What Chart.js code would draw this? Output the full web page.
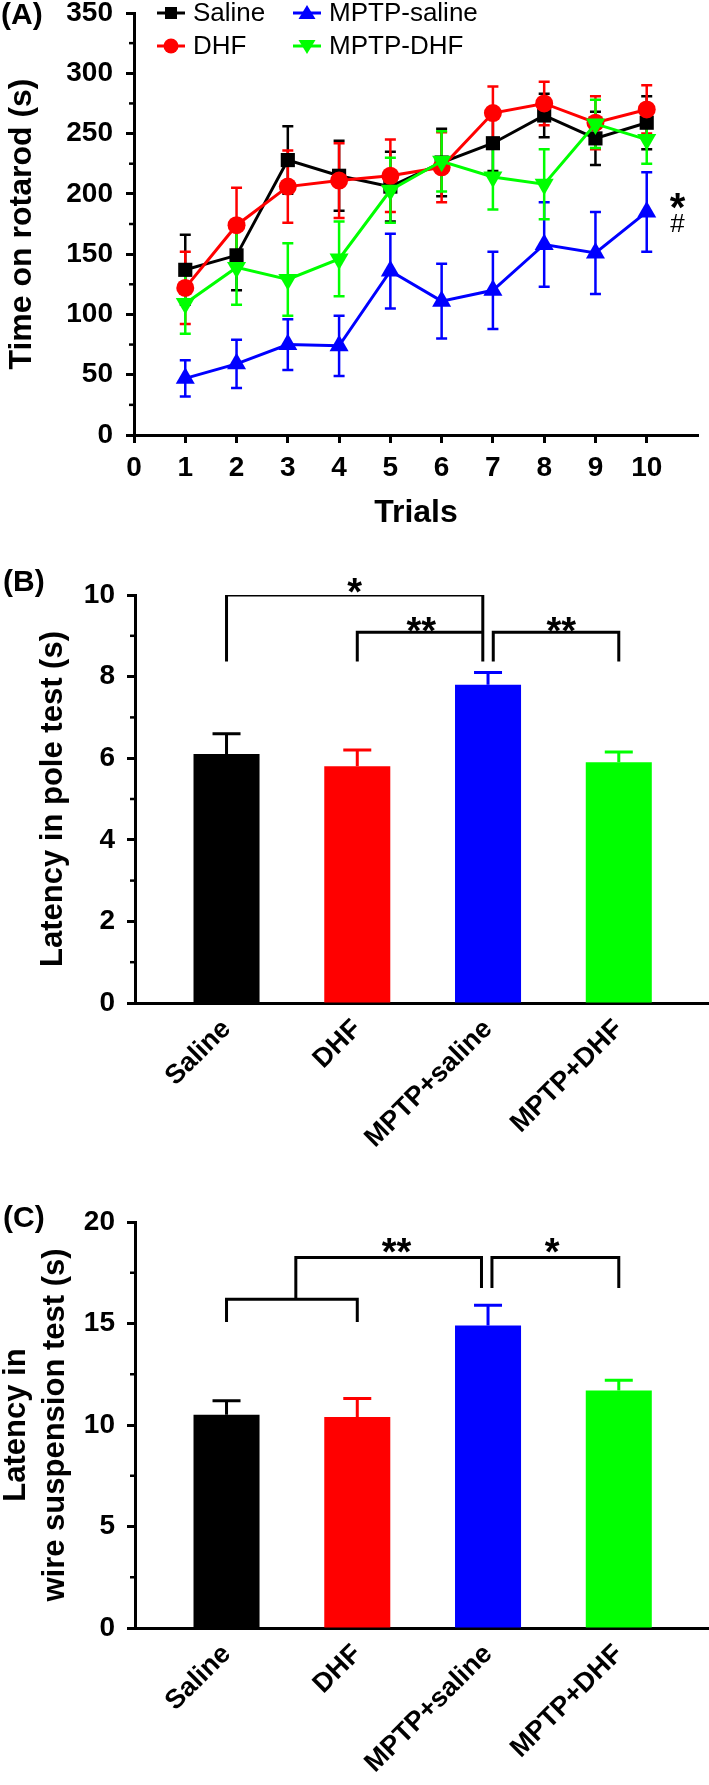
<!DOCTYPE html>
<html lang="en">
<head>
<meta charset="UTF-8">
<title>Rotarod, pole and wire suspension tests</title>
<script src="https://cdn.jsdelivr.net/npm/chart.js"></script>
<style>
  body { margin: 0; background: #fff; }
  .panel { position: absolute; left: 0; width: 709px; }
</style>
</head>
<body>

<div class="panel" style="top:0;height:545px"><canvas id="rotarod"></canvas></div>
<div class="panel" style="top:545px;height:655px"><canvas id="pole"></canvas></div>
<div class="panel" style="top:1200px;height:585px"><canvas id="wire"></canvas></div>

<script>
// ---- data ----
const trials = [1, 2, 3, 4, 5, 6, 7, 8, 9, 10];
const trialTicks = [0, 1, 2, 3, 4, 5, 6, 7, 8, 9, 10];

const salineMean = [137, 149, 228, 215, 206, 226, 242, 265, 246, 259];
const salineErr  = [29, 29, 28, 29, 29, 28, 23, 18, 22, 22];
const dhfMean    = [122, 174, 206, 211, 215, 222, 267, 275, 259, 270];
const dhfErr     = [30, 31, 30, 31, 30, 29, 22, 18, 22, 20];
const mptpSalineMean = [47, 59, 75, 74, 136, 111, 120, 158, 151, 185];
const mptpSalineErr  = [15, 20, 21, 25, 31, 31, 32, 35, 34, 33];
const mptpDhfMean = [109, 139, 129, 146, 203, 227, 214, 208, 258, 245];
const mptpDhfErr  = [25, 31, 30, 31, 27, 25, 27, 29, 20, 20];

const groups = ['Saline', 'DHF', 'MPTP+saline', 'MPTP+DHF'];
const poleMean = [6.1, 5.8, 7.8, 5.9];
const poleErr  = [0.5, 0.4, 0.3, 0.25];
const wireMean = [10.5, 10.4, 14.9, 11.7];
const wireErr  = [0.7, 0.9, 1.0, 0.5];

// significance brackets, in (group index, value) units
const poleBrackets = [
  [[0, 8.37], [0, 10], [1.96, 10], [1.96, 8.37]],
  [[1, 8.37], [1, 9.09], [1.96, 9.09]],
  [[2.04, 8.37], [2.04, 9.09], [3, 9.09], [3, 8.37]]
];
const poleStars = [['*', 0.98, 10.3], ['**', 1.49, 9.34], ['**', 2.56, 9.34]];
const wireBrackets = [
  [[0, 15.08], [0, 16.2], [1, 16.2], [1, 15.08]],
  [[0.53, 16.2], [0.53, 18.25], [1.95, 18.25], [1.95, 16.75]],
  [[2.03, 16.75], [2.03, 18.25], [3, 18.25], [3, 16.75]]
];
const wireStars = [['**', 1.3, 18.97], ['*', 2.49, 18.97]];
const rotarodMarks = [['*', 10.6, 197], ['#', 10.6, 176]];

// ---- style ----
const FONT = "'Liberation Sans', Arial, Helvetica, sans-serif";
const barColors = ['#000000', '#ff0000', '#0000ff', '#00ff00'];

Chart.defaults.font.family = FONT;
Chart.defaults.color = '#000';
Chart.defaults.animation = false;
Chart.defaults.plugins.legend.display = false;
Chart.defaults.plugins.tooltip.enabled = false;

// ---- plugins ----
const errorBars = {
  id: 'errorBars',
  beforeDatasetsDraw(chart, args, opts) {
    const ctx = chart.ctx, ys = chart.scales.y;
    chart.data.datasets.forEach((ds, di) => {
      if (!ds.errors) return;
      const meta = chart.getDatasetMeta(di);
      meta.data.forEach((el, i) => {
        const v = ds.data[i].y, e = ds.errors[i];
        const top = ys.getPixelForValue(v + e);
        const bot = ys.getPixelForValue(opts.oneSided ? v : v - e);
        const c = Array.isArray(ds.backgroundColor) ? ds.backgroundColor[i] : ds.borderColor;
        ctx.save();
        ctx.strokeStyle = c;
        ctx.lineWidth = opts.width;
        ctx.beginPath();
        ctx.moveTo(el.x, bot); ctx.lineTo(el.x, top);
        ctx.moveTo(el.x - opts.cap / 2, top); ctx.lineTo(el.x + opts.cap / 2, top);
        if (!opts.oneSided) {
          ctx.moveTo(el.x - opts.cap / 2, bot); ctx.lineTo(el.x + opts.cap / 2, bot);
        }
        ctx.stroke();
        ctx.restore();
      });
    });
  }
};

const minorTicks = {
  id: 'minorTicks',
  afterDraw(chart) {
    const s = chart.scales.y, ctx = chart.ctx, x0 = chart.chartArea.left;
    const vals = s.ticks.map(t => t.value);
    ctx.save();
    ctx.strokeStyle = '#000';
    ctx.lineWidth = 2.5;
    for (let i = 0; i < vals.length - 1; i++) {
      const py = s.getPixelForValue((vals[i] + vals[i + 1]) / 2);
      ctx.beginPath(); ctx.moveTo(x0, py); ctx.lineTo(x0 - 5, py); ctx.stroke();
    }
    ctx.restore();
  }
};

const notes = {
  id: 'notes',
  afterDraw(chart, args, opts) {
    const ctx = chart.ctx;
    (opts.items || []).forEach(([text, x, y]) => {
      const star = text.startsWith('*');
      const size = star ? opts.starSize : opts.otherSize;
      const px = chart.scales.x.getPixelForValue(x);
      const py = chart.scales.y.getPixelForValue(y);
      ctx.save();
      ctx.font = (star ? 'bold ' : '') + size + 'px ' + FONT;
      ctx.fillStyle = '#000';
      ctx.textAlign = 'center';
      ctx.textBaseline = 'alphabetic';
      ctx.fillText(text, px, py + size * (star ? 0.58 : 0.36));
      ctx.restore();
    });
  }
};

const panelLabel = {
  id: 'panelLabel',
  afterDraw(chart, args, opts) {
    const ctx = chart.ctx;
    ctx.save();
    ctx.font = 'bold 30px ' + FONT;
    ctx.fillStyle = '#000';
    ctx.textAlign = 'left';
    ctx.textBaseline = 'middle';
    ctx.fillText(opts.text, opts.x, opts.y);
    ctx.restore();
  }
};

function marker(ctx, style, rot, x, y, color) {
  ctx.fillStyle = color;
  ctx.beginPath();
  if (style === 'rect') {
    ctx.rect(x - 6, y - 6, 12, 12);
  } else if (style === 'circle') {
    ctx.arc(x, y, 7.5, 0, Math.PI * 2);
  } else {
    const d = rot ? -1 : 1;
    ctx.moveTo(x, y - d * 8);
    ctx.lineTo(x + 8.5, y + d * 6);
    ctx.lineTo(x - 8.5, y + d * 6);
    ctx.closePath();
  }
  ctx.fill();
}

const boxLegend = {
  id: 'boxLegend',
  afterDraw(chart, args, opts) {
    const ctx = chart.ctx;
    chart.data.datasets.forEach((ds, i) => {
      const cx = opts.cols[Math.floor(i / 2)], cy = opts.rows[i % 2];
      ctx.save();
      ctx.strokeStyle = ds.borderColor;
      ctx.lineWidth = 3;
      ctx.beginPath(); ctx.moveTo(cx - 14, cy); ctx.lineTo(cx + 14, cy); ctx.stroke();
      marker(ctx, ds.pointStyle, ds.pointRotation, cx, cy, ds.borderColor);
      ctx.font = '26px ' + FONT;
      ctx.fillStyle = '#000';
      ctx.textAlign = 'left';
      ctx.textBaseline = 'middle';
      ctx.fillText(ds.label, cx + 22, cy + 1);
      ctx.restore();
    });
  }
};

// ---- shared axis pieces ----
const axisBorder = { color: '#000', width: 3 };
const yGrid = { drawOnChartArea: false, tickLength: 8, tickWidth: 3, tickColor: '#000' };
const tickFont = { size: 28, weight: 'bold' };

function lineSet(label, mean, err, color, style, radius, rot, order) {
  return {
    label: label,
    data: mean.map((v, i) => ({ x: trials[i], y: v })),
    errors: err,
    borderColor: color,
    backgroundColor: color,
    borderWidth: 3,
    pointStyle: style,
    pointRadius: radius,
    pointRotation: rot,
    pointBorderWidth: 0,
    tension: 0,
    clip: false,
    order: order
  };
}

// ---- (A) rotarod ----
new Chart(document.getElementById('rotarod'), {
  type: 'line',
  data: {
    datasets: [
      lineSet('Saline', salineMean, salineErr, '#000000', 'rect', 10, 0, 4),
      lineSet('DHF', dhfMean, dhfErr, '#ff0000', 'circle', 9, 0, 3),
      lineSet('MPTP-saline', mptpSalineMean, mptpSalineErr, '#0000ff', 'triangle', 11, 0, 1),
      lineSet('MPTP-DHF', mptpDhfMean, mptpDhfErr, '#00ff00', 'triangle', 11, 180, 2)
    ]
  },
  options: {
    responsive: true,
    maintainAspectRatio: false,
    layout: { padding: { top: 13, left: 0, right: 0, bottom: 0 } },
    scales: {
      x: {
        type: 'linear', min: 0, max: 11, offset: false,
        afterBuildTicks: s => { s.ticks = trialTicks.map(v => ({ value: v })); },
        ticks: { autoSkip: false, maxRotation: 0, padding: 8, font: tickFont, color: '#000' },
        grid: yGrid,
        border: axisBorder,
        title: { display: true, text: 'Trials', color: '#000', font: { size: 32, weight: 'bold' }, padding: { top: 0, bottom: 13 } },
        afterFit: s => { s.height = 110; s.paddingLeft = 0; s.paddingRight = 0; }
      },
      y: {
        min: 0, max: 350,
        ticks: { stepSize: 50, padding: 13, font: tickFont, color: '#000' },
        grid: yGrid,
        border: axisBorder,
        title: { display: true, text: 'Time on rotarod (s)', color: '#000', font: { size: 32, weight: 'bold' }, padding: { top: 3, bottom: 0 } },
        afterFit: s => { s.width = 134; s.paddingTop = 0; s.paddingBottom = 0; }
      }
    },
    plugins: {
      errorBars: { cap: 11, width: 2.5, oneSided: false },
      notes: { items: rotarodMarks, starSize: 40, otherSize: 26 },
      panelLabel: { text: '(A)', x: 1, y: 16 },
      boxLegend: { cols: [171, 307], rows: [13, 46] }
    }
  },
  plugins: [errorBars, minorTicks, notes, panelLabel, boxLegend]
});

// ---- (B) and (C) bar panels ----
function barPanel(id, mean, err, brackets, stars, yMax, yStep, title, titlePad, lineH, label, labelY, topPad, xHeight) {
  const sets = [{
    type: 'bar',
    data: mean.map((v, i) => ({ x: i, y: v })),
    errors: err,
    backgroundColor: barColors,
    borderWidth: 0,
    barPercentage: 0.505,
    categoryPercentage: 1,
    order: 2
  }];
  brackets.forEach(b => sets.push({
    type: 'line',
    data: b.map(p => ({ x: p[0], y: p[1] })),
    borderColor: '#000',
    borderWidth: 3,
    pointRadius: 0,
    fill: false,
    tension: 0,
    order: 1
  }));
  return new Chart(document.getElementById(id), {
    type: 'bar',
    data: { datasets: sets },
    options: {
      responsive: true,
      maintainAspectRatio: false,
      layout: { padding: { top: topPad, left: 0, right: 0, bottom: 0 } },
      scales: {
        x: {
          type: 'linear', min: -0.7, max: 3.69, offset: false,
          afterBuildTicks: s => { s.ticks = groups.map((g, i) => ({ value: i })); },
          ticks: {
            autoSkip: false, minRotation: 45, maxRotation: 45, padding: 7,
            font: { size: 27, weight: 'bold', lineHeight: 1.55 }, color: '#000',
            callback: v => groups[v]
          },
          grid: { display: false, drawTicks: false, offset: false },
          border: axisBorder,
          afterFit: s => { s.height = xHeight; s.paddingLeft = 0; s.paddingRight = 0; }
        },
        y: {
          min: 0, max: yMax,
          ticks: { stepSize: yStep, padding: 12, font: tickFont, color: '#000' },
          grid: yGrid,
          border: axisBorder,
          title: { display: true, text: title, color: '#000', font: { size: 31, weight: 'bold', lineHeight: lineH }, padding: { top: titlePad, bottom: 0 } },
          afterFit: s => { s.width = 135; s.paddingTop = 0; s.paddingBottom = 0; }
        }
      },
      plugins: {
        errorBars: { cap: 28, width: 3, oneSided: true },
        notes: { items: stars, starSize: 38, otherSize: 26 },
        panelLabel: { text: label, x: 3, y: labelY }
      }
    },
    plugins: [errorBars, minorTicks, notes, panelLabel]
  });
}

barPanel('pole', poleMean, poleErr, poleBrackets, poleStars, 10, 2,
  'Latency in pole test (s)', 35, 1.2, '(B)', 38, 50, 197);
barPanel('wire', wireMean, wireErr, wireBrackets, wireStars, 20, 5,
  ['Latency in', 'wire suspension test (s)'], -3, 1.25, '(C)', 19, 22, 157);
</script>

</body>
</html>
